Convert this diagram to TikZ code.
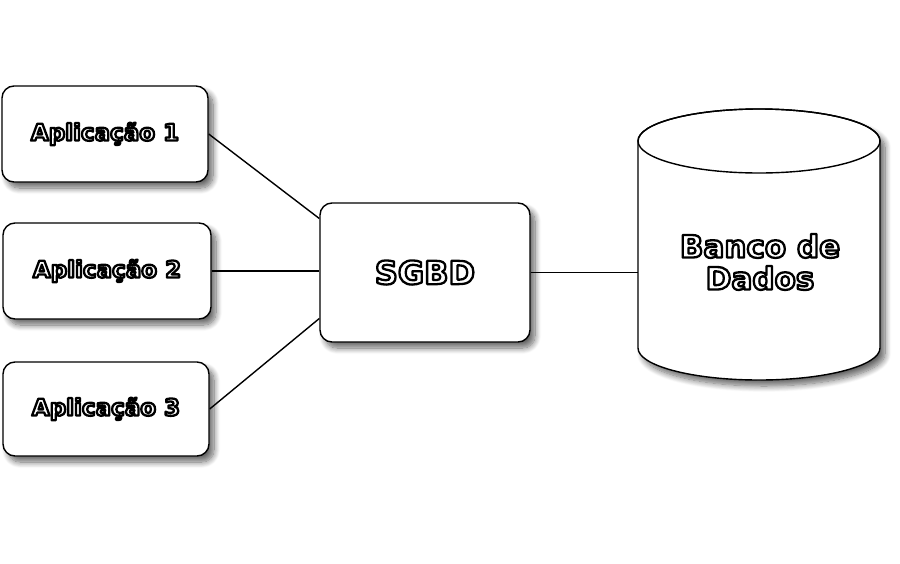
\documentclass[tikz,border=0pt]{standalone}
\usepackage{fontspec}
\setmainfont{DejaVu Sans}
\usetikzlibrary{shadows.blur}

% texto branco com contorno preto
\newcommand{\outl}[1]{\special{pdf:code q 2 Tr 2.3 w 1 j 0 0 0 RG 1 1 1 rg}\bfseries #1\special{pdf:code Q}}

\begin{document}
\begin{tikzpicture}[x=1pt,y=-1pt,line width=1.4pt,
		shadowed/.style={blur shadow={shadow xshift=5pt,shadow yshift=-6pt,shadow blur radius=6pt,shadow blur steps=10,shadow opacity=60}},
		appbox/.style={draw,fill=white,rounded corners=12pt,minimum width=206pt,minimum height=96pt,
			shadowed,font=\fontsize{23}{26}\selectfont}]
			\useasboundingbox (0,0) rectangle (900,563);
			\node[appbox] (app1) at (105,134) {\outl{Aplicação 1}};
			\node[appbox,minimum width=208pt] (app2) at (107,271) {\outl{Aplicação 2}};
			\node[appbox,minimum height=94pt] (app3) at (106,409) {\outl{Aplicação 3}};
			\node[appbox,minimum width=210pt,minimum height=139pt,font=\fontsize{32}{36}\selectfont] (sgbd) at (425,272.5) {\outl{SGBD}};
			% cilindro
			\draw[fill=white,shadowed]
				(638,141) -- (638,348) arc[start angle=180,end angle=0,x radius=121,y radius=32]
				-- (880,141) arc[start angle=0,end angle=-180,x radius=121,y radius=32] -- cycle;
			\draw (759,141) ellipse[x radius=121,y radius=32];
			\node[minimum width=242pt,minimum height=271pt,align=center,
				font=\fontsize{31}{32}\selectfont] (db) at (760,262) {\outl{Banco de}\\\outl{Dados}};
			\draw (app1.east) -- ([yshift=54pt]sgbd.west);
			\draw (app2.east) -- (app2.east -| sgbd.west);
			\draw (app3.east) -- ([yshift=-46pt]sgbd.west);
			\draw (sgbd.east) -- (sgbd.east -| db.west);
		\end{tikzpicture}
\end{document}
